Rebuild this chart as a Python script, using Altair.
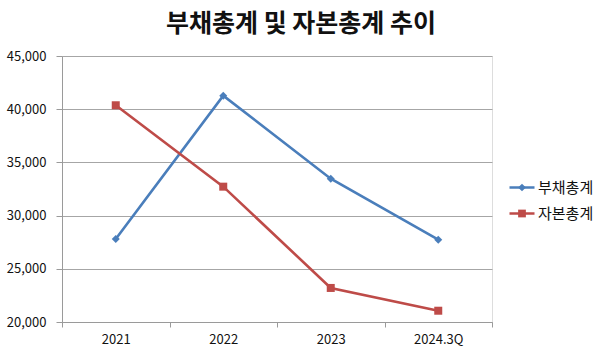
import altair as alt
import pandas as pd

categories = ["2021", "2022", "2023", "2024.3Q"]
series_names = ["부채총계", "자본총계"]
debt = [27800, 41270, 33470, 27740]
equity = [40370, 32720, 23200, 21060]
y_ticks = [20000, 25000, 30000, 35000, 40000, 45000]
colors = ["#4A7EBB", "#BE4B48"]
shapes = ["diamond", "square"]

rows = []
for c, v in zip(categories, debt):
    rows.append({"period": c, "series": series_names[0], "value": v})
for c, v in zip(categories, equity):
    rows.append({"period": c, "series": series_names[1], "value": v})
df = pd.DataFrame(rows)
df["series_line"] = df["series"]

FONT = "Noto Sans CJK KR"

x_enc = alt.X(
    "period:O",
    sort=categories,
    scale=alt.Scale(type="band", paddingInner=0, paddingOuter=0),
    axis=alt.Axis(
        title=None, labelAngle=0, tickBand="extent", grid=False,
        domainColor="#9a9a9a", tickColor="#9a9a9a", tickSize=5,
        labelFontSize=13, labelColor="#111111", labelFont=FONT, labelPadding=6,
    ),
)
y_enc = alt.Y(
    "value:Q",
    scale=alt.Scale(domain=[20000, 45000], nice=False, zero=False),
    axis=alt.Axis(
        title=None, values=y_ticks, format=",.0f", grid=True, gridColor="#a6a6a6",
        domainColor="#9a9a9a", tickColor="#9a9a9a", tickSize=6,
        labelFontSize=13, labelColor="#111111", labelFont=FONT, labelPadding=10,
    ),
)

lines = alt.Chart(df).mark_line(strokeWidth=2.6).encode(
    x=x_enc,
    y=y_enc,
    stroke=alt.Stroke(
        "series_line:N",
        scale=alt.Scale(range=colors),
        legend=alt.Legend(
            title=None, orient="none", legendX=446, legendY=119,
            symbolType="stroke", symbolSize=625, symbolStrokeWidth=2.6,
            labelFontSize=15, labelFont=FONT, labelColor="#111111",
            labelOffset=2, rowPadding=1, padding=0, clipHeight=25,
        ),
    ),
)

pt_legend = alt.Legend(
    title=None, orient="none", legendX=455, legendY=119,
    symbolSize=60, labelExpr="''", padding=0, clipHeight=25,
    rowPadding=1, symbolStrokeWidth=0, symbolOpacity=1,
)

points = alt.Chart(df).mark_point(filled=True, size=64, opacity=1).encode(
    x=x_enc,
    y=y_enc,
    fill=alt.Fill(
        "series:N",
        scale=alt.Scale(domain=series_names, range=colors),
        legend=pt_legend,
    ),
    shape=alt.Shape(
        "series:N",
        scale=alt.Scale(domain=series_names, range=shapes),
        legend=pt_legend,
    ),
)

chart = alt.layer(lines, points).properties(
    width=430,
    height=266,
    title=alt.TitleParams(
        "부채총계 및 자본총계 추이", font=FONT, fontSize=25, fontWeight="bold",
        color="#111111", anchor="middle", dx=24, offset=13,
    ),
    autosize=alt.AutoSizeParams(type="none"),
    padding={"left": 62, "top": 56, "right": 108, "bottom": 32},
).configure_view(stroke=None).configure(background="white")

chart.save("out.html", embed_options={"renderer": "svg", "actions": False})
